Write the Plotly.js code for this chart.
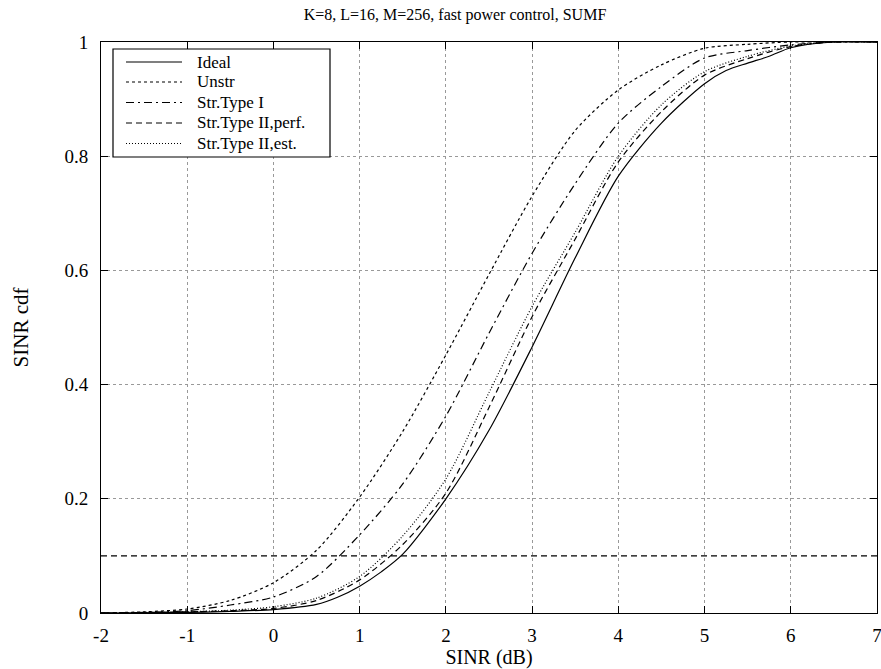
<!DOCTYPE html>
<html>
<head>
<meta charset="utf-8">
<script src="https://cdn.plot.ly/plotly-3.0.1.min.js"></script>
<style>
  html, body { margin: 0; padding: 0; background: #fff; }
  #chart { width: 881px; height: 669px; }
</style>
</head>
<body>
<div id="chart"></div>
<script>
// ---- data ----
const seriesNames = ["Ideal", "Unstr", "Str.Type I", "Str.Type II,perf.", "Str.Type II,est."];

const xIdeal = [-2, -1, -0.5, 0, 0.5, 0.75, 1, 1.25, 1.5, 2, 2.5, 3, 3.5, 4, 4.5, 5, 5.25, 5.5, 5.75, 6, 6.5, 7];
const yIdeal = [0, 0.001, 0.003, 0.006, 0.015, 0.028, 0.047, 0.072, 0.103, 0.2, 0.32, 0.466, 0.622, 0.765, 0.858, 0.927, 0.95, 0.963, 0.975, 0.99, 1, 1];

const xUnstr = [-2, -1.5, -1, -0.5, 0, 0.5, 1, 1.5, 2, 2.5, 3, 3.5, 4, 4.5, 5, 5.5, 6, 6.5, 7];
const yUnstr = [0, 0.002, 0.007, 0.022, 0.053, 0.11, 0.203, 0.318, 0.452, 0.593, 0.73, 0.845, 0.916, 0.96, 0.989, 0.996, 1, 1, 1];

const xType1 = [-2, -1.5, -1, -0.5, 0, 0.5, 1, 1.5, 2, 2.5, 3, 3.5, 4, 4.5, 5, 5.5, 6, 6.5, 7];
const yType1 = [0, 0.001, 0.004, 0.014, 0.028, 0.064, 0.137, 0.226, 0.345, 0.49, 0.63, 0.752, 0.858, 0.922, 0.972, 0.985, 0.995, 1, 1];

const xType2perf = [-2, -1, -0.5, 0, 0.5, 1, 1.5, 2, 2.5, 3, 3.5, 4, 4.5, 5, 5.5, 6, 6.5, 7];
const yType2perf = [0, 0.002, 0.004, 0.008, 0.022, 0.058, 0.12, 0.21, 0.36, 0.519, 0.655, 0.79, 0.878, 0.942, 0.971, 0.992, 1, 1];

const xType2est = [-2, -1, -0.5, 0, 0.5, 1, 1.5, 2, 2.5, 3, 3.5, 4, 4.5, 5, 5.5, 6, 6.5, 7];
const yType2est = [0, 0.002, 0.005, 0.011, 0.026, 0.064, 0.135, 0.235, 0.386, 0.537, 0.667, 0.80, 0.89, 0.948, 0.975, 0.993, 1, 1];

const threshold = 0.1;

const xTickVals = [-2, -1, 0, 1, 2, 3, 4, 5, 6, 7];
const xTickText = ["-2", "-1", "0", "1", "2", "3", "4", "5", "6", "7"];
const yTickVals = [0, 0.2, 0.4, 0.6, 0.8, 1];
const yTickText = ["0", "0.2", "0.4", "0.6", "0.8", "1"];

// ---- styles ----
const FONT = "Liberation Serif, Times New Roman, serif";
const dashes = ["solid", "3px,3px", "8px,4px,2px,4px", "6px,4px", "1px,2px"];
const xs = [xIdeal, xUnstr, xType1, xType2perf, xType2est];
const ys = [yIdeal, yUnstr, yType1, yType2perf, yType2est];

const traces = seriesNames.map((name, i) => ({
  type: "scatter",
  mode: "lines",
  name: name,
  x: xs[i],
  y: ys[i],
  showlegend: false,
  line: { color: "#000", width: 1.2, dash: dashes[i], shape: "spline", smoothing: 0.8 }
}));

// plot-area pixel geometry
const PL = 101, PR = 877, PT = 42, PB = 613;
const px2paper = p => (p - PL) / (PR - PL);
const py2paper = p => (PB - p) / (PB - PT);

// custom legend (box, samples, labels)
const legRowY = [62, 82, 102.5, 123, 143.5];
const shapes = [{
  type: "line", xref: "x", yref: "y",
  x0: xTickVals[0], x1: xTickVals[xTickVals.length - 1],
  y0: threshold, y1: threshold,
  line: { color: "#000", width: 1.2, dash: "6px,4px" }
}, {
  type: "rect", xref: "paper", yref: "paper",
  x0: px2paper(113), x1: px2paper(330), y0: py2paper(157), y1: py2paper(49),
  fillcolor: "#fff", line: { color: "#000", width: 1.2 }, layer: "above"
}];
const annotations = [];
seriesNames.forEach((name, i) => {
  shapes.push({
    type: "line", xref: "paper", yref: "paper", layer: "above",
    x0: px2paper(126), x1: px2paper(182), y0: py2paper(legRowY[i]), y1: py2paper(legRowY[i]),
    line: { color: "#000", width: 1.2, dash: dashes[i] }
  });
  annotations.push({
    xref: "paper", yref: "paper", x: px2paper(195), y: py2paper(legRowY[i]),
    xanchor: "left", yanchor: "middle", showarrow: false, text: name,
    font: { family: FONT, size: 17, color: "#000" }
  });
});

const axisCommon = {
  showline: true,
  linecolor: "#000",
  linewidth: 1,
  mirror: "ticks",
  ticks: "inside",
  ticklen: 7,
  tickcolor: "#000",
  tickwidth: 1,
  showgrid: true,
  gridcolor: "#999",
  gridwidth: 1,
  griddash: "dot",
  zeroline: false,
  ticklabeloverflow: "allow",
  tickfont: { family: FONT, size: 19, color: "#000" }
};

const layout = {
  width: 881,
  height: 669,
  margin: { l: PL, r: 881 - PR, t: PT, b: 669 - PB },
  paper_bgcolor: "#fff",
  plot_bgcolor: "#fff",
  font: { family: FONT, color: "#000" },
  title: {
    text: "K=8, L=16, M=256, fast power control, SUMF",
    font: { family: FONT, size: 16, color: "#000" },
    x: 455 / 881, xanchor: "center", xref: "container",
    y: 1 - 14 / 669, yanchor: "middle", yref: "container"
  },
  xaxis: Object.assign({}, axisCommon, {
    range: [-2, 7],
    tickmode: "array",
    tickvals: xTickVals,
    ticktext: xTickText,
    ticklabelstandoff: 5,
    title: { text: "SINR (dB)", font: { family: FONT, size: 20, color: "#000" }, standoff: 1 }
  }),
  yaxis: Object.assign({}, axisCommon, {
    range: [0, 1],
    tickmode: "array",
    tickvals: yTickVals,
    ticktext: yTickText,
    ticklabelstandoff: 8,
    title: { text: "SINR cdf", font: { family: FONT, size: 21, color: "#000" }, standoff: 30 }
  }),
  showlegend: false,
  shapes: shapes,
  annotations: annotations
};

Plotly.newPlot("chart", traces, layout, { displayModeBar: false, staticPlot: true });
</script>
</body>
</html>
